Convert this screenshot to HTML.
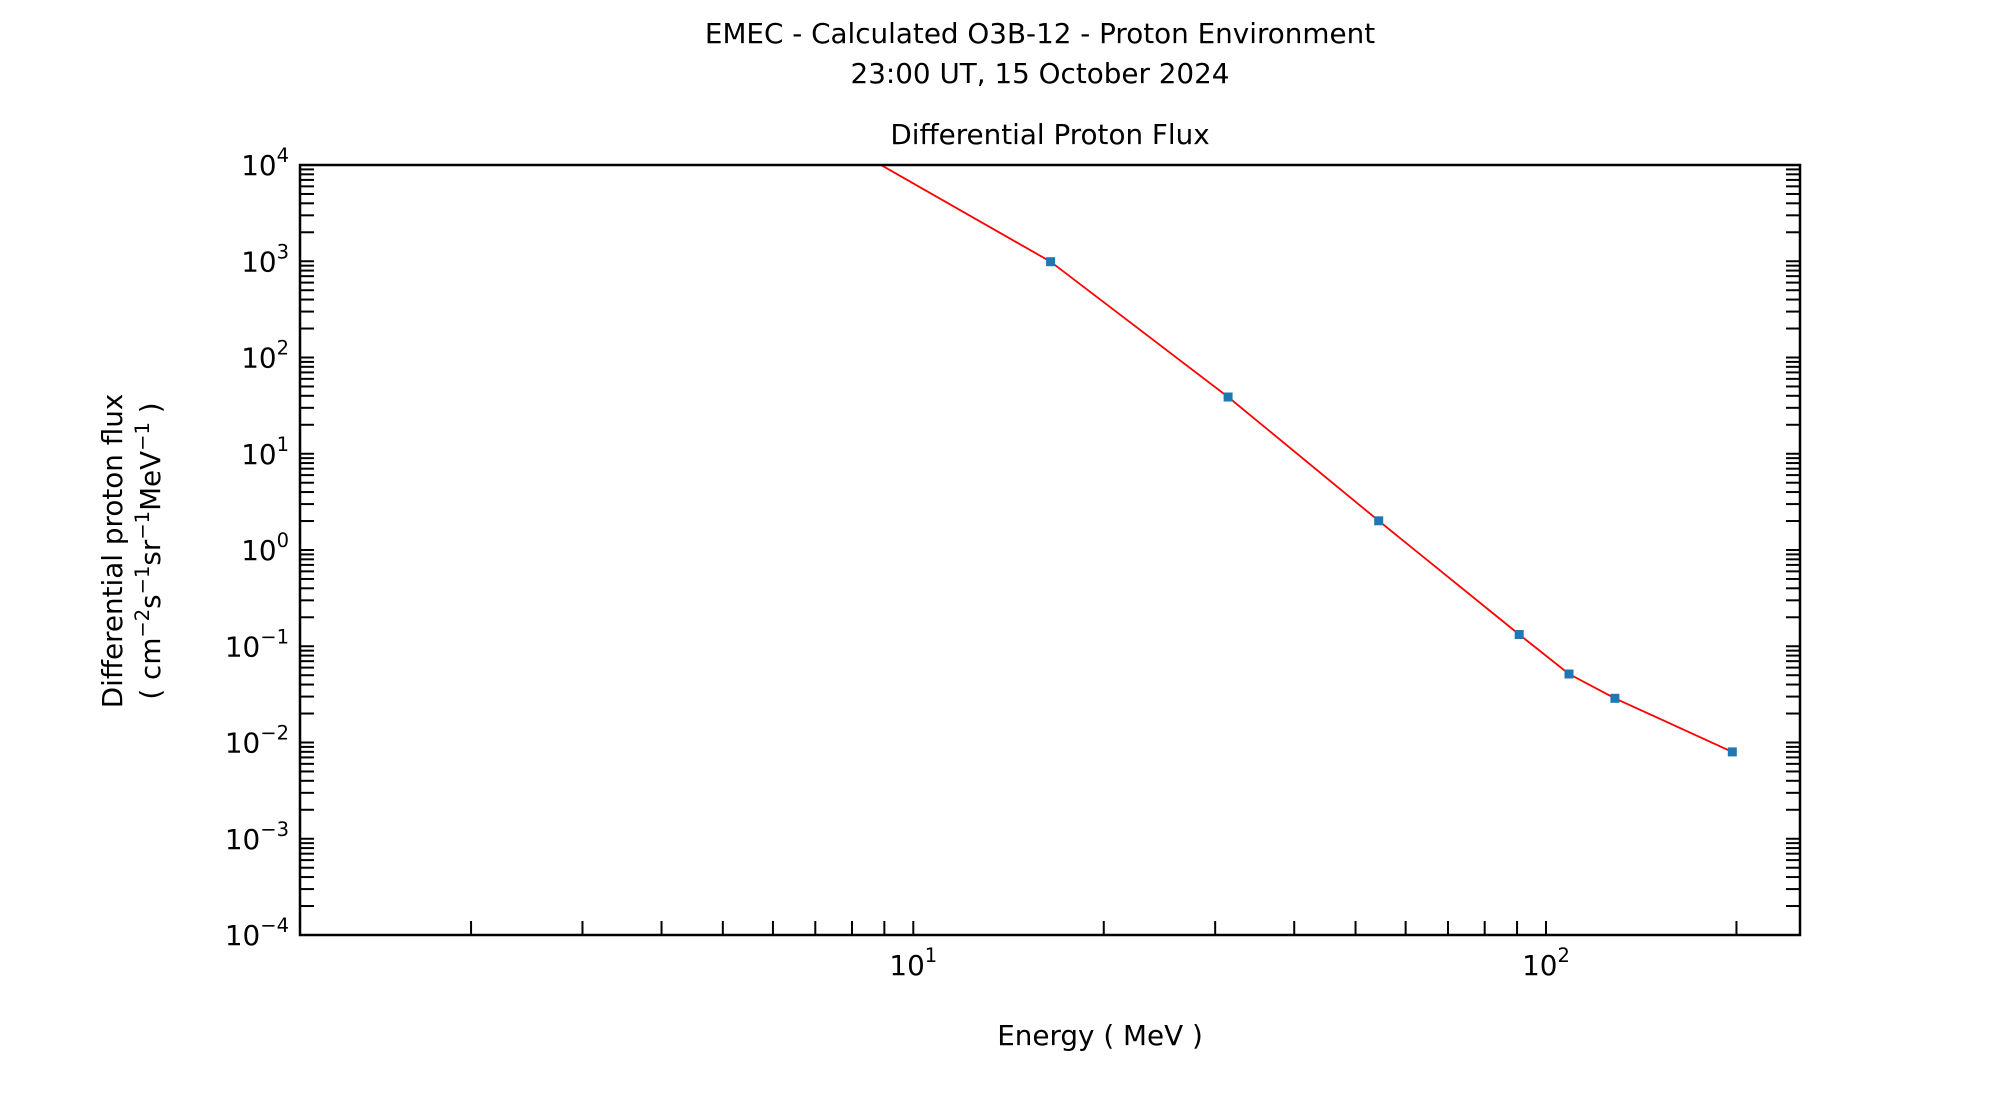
<!DOCTYPE html>
<html><head><meta charset="utf-8"><style>
html,body{margin:0;padding:0;background:#fff;}
svg{display:block;font-family:"DejaVu Sans","Liberation Sans",sans-serif;}
</style></head><body>
<svg id="s" width="2000" height="1100" xmlns="http://www.w3.org/2000/svg">
<rect width="2000" height="1100" fill="#fff"/>
<text x="1040" y="43" font-size="27.8" text-anchor="middle">EMEC - Calculated O3B-12 - Proton Environment</text>
<text x="1040" y="83" font-size="27.8" text-anchor="middle">23:00 UT, 15 October 2024</text>
<text x="1050" y="144" font-size="27.8" text-anchor="middle">Differential Proton Flux</text>
<text x="1100" y="1045" font-size="27.8" text-anchor="middle">Energy ( MeV )</text>
<text transform="translate(122,551) rotate(-90)" font-size="27.8" text-anchor="middle">Differential proton flux</text>
<text transform="translate(160,551) rotate(-90)" font-size="27.8" text-anchor="middle">( cm<tspan dy="-11" font-size="19.5">−2</tspan><tspan dy="11">s</tspan><tspan dy="-11" font-size="19.5">−1</tspan><tspan dy="11">sr</tspan><tspan dy="-11" font-size="19.5">−1</tspan><tspan dy="11">MeV</tspan><tspan dy="-11" font-size="19.5">−1</tspan><tspan dy="11"> )</tspan></text>
<g id="ticks" stroke="#000" stroke-width="2"></g>
<g id="labels" font-size="27.8"></g>
<defs><clipPath id="c"><rect x="300" y="165" width="1500" height="770"/></clipPath></defs>
<polyline clip-path="url(#c)" fill="none" stroke="#ff0000" stroke-width="1.8" points="860,153 1050.6,261.7 1228.1,397 1378.7,520.8 1519.2,634.5 1569,674 1614.9,698.3 1732.3,751.9"/>
<g fill="#1f77b4">
<rect x="1046.1" y="257.2" width="9" height="9"/>
<rect x="1223.6" y="392.5" width="9" height="9"/>
<rect x="1374.2" y="516.3" width="9" height="9"/>
<rect x="1514.7" y="630" width="9" height="9"/>
<rect x="1564.5" y="669.5" width="9" height="9"/>
<rect x="1610.4" y="693.8" width="9" height="9"/>
<rect x="1727.8" y="747.4" width="9" height="9"/>
</g>
<rect x="300" y="165" width="1500" height="770" fill="none" stroke="#000" stroke-width="2.5"/>
</svg>
<script>
(function(){
var NS="http://www.w3.org/2000/svg";
var t=document.getElementById("ticks"),l=document.getElementById("labels");
function line(x1,y1,x2,y2){var e=document.createElementNS(NS,"line");e.setAttribute("x1",x1);e.setAttribute("y1",y1);e.setAttribute("x2",x2);e.setAttribute("y2",y2);t.appendChild(e);}
var dy=96.25;
for(var d=-4;d<=4;d++){
  var yb=165+(4-d)*dy;
  for(var m=1;m<=9;m++){
    var y=yb-Math.log10(m)*dy;
    if(y<164||y>936)continue;
    if(m==1&&(d==4||d==-4))continue;
    line(300,y,314,y);line(1800,y,1786,y);
  }
  var tx=document.createElementNS(NS,"text");
  tx.setAttribute("x",289);tx.setAttribute("y",yb+10);tx.setAttribute("text-anchor","end");
  tx.innerHTML="10<tspan dy='-13' font-size='19.5'>"+(d<0?"−"+(-d):d)+"</tspan>";
  l.appendChild(tx);
}
var dx=632.7;
for(var d=0;d<=2;d++){
  for(var m=1;m<=9;m++){
    var x=913.3+(d-1+Math.log10(m))*dx;
    if(x<302||x>1798)continue;
    line(x,935,x,921);
  }
}
[[1,913.3],[2,1546]].forEach(function(p){
  var tx=document.createElementNS(NS,"text");
  tx.setAttribute("x",p[1]);tx.setAttribute("y",975);tx.setAttribute("text-anchor","middle");
  tx.innerHTML="10<tspan dy='-13' font-size='19.5'>"+p[0]+"</tspan>";
  l.appendChild(tx);
});
})();
</script>
</body></html>
